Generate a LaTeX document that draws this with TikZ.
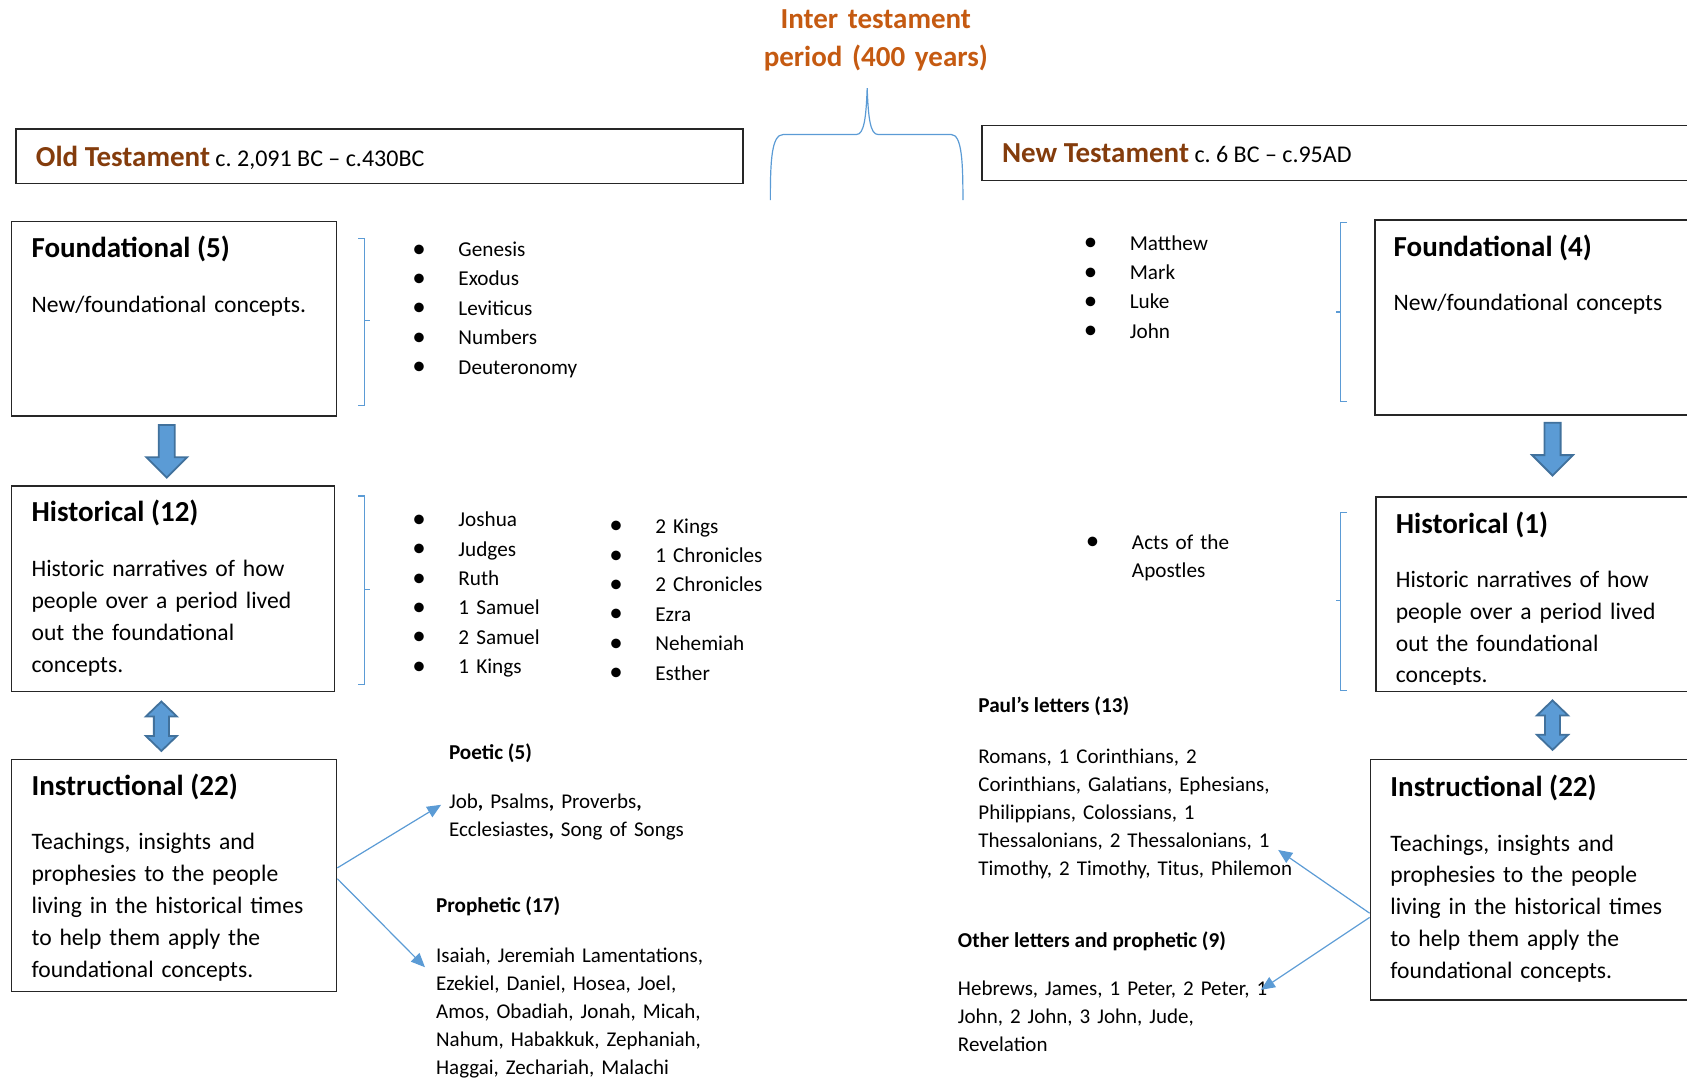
\documentclass[tikz,border=0pt]{standalone}
\usepackage{fontspec}
\setmainfont{Carlito}
\usepackage{xcolor}
\usetikzlibrary{arrows.meta}
\definecolor{intercol}{HTML}{C55A11}
\definecolor{testcol}{HTML}{843C0C}
\definecolor{linkblue}{HTML}{5B9BD5}
\definecolor{blockedge}{HTML}{41719C}
\newcommand{\bul}{\makebox[23pt][l]{\raisebox{-0.3pt}{\fontsize{13.5}{13.5}\selectfont\textbullet}}}
\frenchspacing
\tikzset{
  box/.style={draw=black!85, line width=0.8pt, anchor=north west, inner sep=0pt},
  title/.style={font=\fontsize{14.5}{17}\selectfont\bfseries, anchor=base west, inner sep=0pt},
  body/.style={font=\fontsize{11.8}{15.9}\selectfont, anchor=base west, inner sep=0pt, align=left, text width=185pt},
  books/.style={font=\fontsize{10.6}{14.7}\selectfont, anchor=base west, inner sep=0pt, align=left, text width=110pt},
  grouphead/.style={font=\fontsize{10.6}{13}\selectfont\bfseries, anchor=base west, inner sep=0pt},
  grouptext/.style={font=\fontsize{10.5}{14}\selectfont, anchor=base west, inner sep=0pt, align=left, text width=190pt},
  bracket/.style={draw=linkblue, line width=0.6pt},
  blockarrow/.style={fill=linkblue, draw=blockedge, line width=0.9pt, line join=miter},
  link/.style={draw=linkblue, line width=0.6pt, -{Triangle[length=7pt,width=6pt]}}
}

\begin{document}
\begin{tikzpicture}[x=0.538pt, y=-0.538pt]
	\useasboundingbox (0,0) rectangle (1568,1003);
	\clip (0,0) rectangle (1568,1003);

	\node[font=\fontsize{14.5}{18.8}\selectfont\bfseries, text=intercol, anchor=base, inner sep=0pt, align=center, text width=160pt] (inter) at (814,26.5) {Inter testament\\period (400 years)};
	\draw[linkblue, line width=0.6pt] (716,186) .. controls (716,150) and (717,125) .. (728,125) -- (796,125) .. controls (803,125) and (805,110) .. (806,82) .. controls (807,110) and (809,125) .. (816,125) -- (884,125) .. controls (894,125) and (895,150) .. (895,186);

	\node[box, minimum width=363.7pt, minimum height=27.4pt] (otbar) at (14,119) {};
	\node[font=\fontsize{12}{14}\selectfont, anchor=base west, inner sep=0pt] (othead) at (33,155) {\textcolor{testcol}{\fontsize{14.5}{17}\selectfont\bfseries Old Testament} c. 2,091 BC -- c.430BC};
	\node[box, minimum width=370pt, minimum height=27.4pt] (ntbar) at (912,116) {};
	\node[font=\fontsize{12}{14}\selectfont, anchor=base west, inner sep=0pt] (nthead) at (931,151) {\textcolor{testcol}{\fontsize{14.5}{17}\selectfont\bfseries New Testament} c. 6 BC -- c.95AD};

	\node[box, minimum width=162.5pt, minimum height=97.4pt] (otfound) at (10,205) {};
	\node[title] (otfoundhead) at (29,239) {Foundational (5)};
	\node[body] (otfoundtxt) at (29,290) {New/foundational concepts.};
	\node[box, minimum width=161.4pt, minimum height=102.8pt] (othist) at (10,451) {};
	\node[title] (othisthead) at (29,485) {Historical (12)};
	\node[body] (othisttxt) at (29,536) {Historic narratives of how\\people over a period lived\\out the foundational\\concepts.};
	\node[box, minimum width=162.5pt, minimum height=116.2pt] (otinstr) at (10,705) {};
	\node[title] (otinstrhead) at (29,739) {Instructional (22)};
	\node[body] (otinstrtxt) at (29,790) {Teachings, insights and\\prophesies to the people\\living in the historical times\\to help them apply the\\foundational concepts.};

	\begin{scope}[shift={(155,395)}]
		\draw[blockarrow] (-7.5,0) -- (7.5,0) -- (7.5,30) -- (19,30) -- (0,49) -- (-19,30) -- (-7.5,30) -- cycle;
	\end{scope}
	\begin{scope}[shift={(150,675)}]
		\draw[blockarrow] (0,-23) -- (14.5,-9) -- (7,-9) -- (7,9) -- (14.5,9) -- (0,23) -- (-14.5,9) -- (-7,9) -- (-7,-9) -- (-14.5,-9) -- cycle;
	\end{scope}

	\draw[bracket] (333,222) -- (339,222) -- (339,377) -- (333,377) (339,298) -- (344,298);
	\draw[bracket] (333,461) -- (339,461) -- (339,636) -- (333,636) (339,548) -- (344,548);
	\node[books] (pentateuch) at (383,238.5) {\bul Genesis\\\bul Exodus\\\bul Leviticus\\\bul Numbers\\\bul Deuteronomy};
	\node[books] (histbooksa) at (383,489.5) {\bul Joshua\\\bul Judges\\\bul Ruth\\\bul 1 Samuel\\\bul 2 Samuel\\\bul 1 Kings};
	\node[books] (histbooksb) at (566,495.5) {\bul 2 Kings\\\bul 1 Chronicles\\\bul 2 Chronicles\\\bul Ezra\\\bul Nehemiah\\\bul Esther};

	\node[grouphead] (poetichead) at (417,705.5) {Poetic (5)};
	\node[grouptext] (poeticbooks) at (417,751.5) {Job\textbf{,} Psalms\textbf{,} Proverbs\textbf{,}\\Ecclesiastes\textbf{,} Song of Songs};
	\node[grouphead] (prophetichead) at (405,848.5) {Prophetic (17)};
	\node[grouptext] (propheticbooks) at (405,894.5) {Isaiah, Jeremiah Lamentations,\\Ezekiel, Daniel, Hosea, Joel,\\Amos, Obadiah, Jonah, Micah,\\Nahum, Habakkuk, Zephaniah,\\Haggai, Zechariah, Malachi};
	\coordinate (poetictip) at (410,748);
	\coordinate (prophetictip) at (395,899);
	\draw[link] ([yshift=3.8pt]otinstr.east) -- (poetictip);
	\draw[link] ([yshift=-1.6pt]otinstr.east) -- (prophetictip);

	\node[box, minimum width=173.8pt, minimum height=97.4pt] (ntfound) at (1277,204) {};
	\node[title] (ntfoundhead) at (1295,238) {Foundational (4)};
	\node[body] (ntfoundtxt) at (1295,289) {New/foundational concepts};
	\node[box, minimum width=173.2pt, minimum height=97.4pt] (nthist) at (1278,461) {};
	\node[title] (nthisthead) at (1297,496) {Historical (1)};
	\begin{scope}
		\clip (1278,461) rectangle (1600,636);
		\node[body] (nthisttxt) at (1297,546) {Historic narratives of how\\people over a period lived\\out the foundational\\concepts.};
	\end{scope}
	\node[box, minimum width=175.9pt, minimum height=120.5pt] (ntinstr) at (1273,705) {};
	\node[title] (ntinstrhead) at (1292,740) {Instructional (22)};
	\node[body] (ntinstrtxt) at (1292,791) {Teachings, insights and\\prophesies to the people\\living in the historical times\\to help them apply the\\foundational concepts.};

	\begin{scope}[shift={(1443,393)}]
		\draw[blockarrow] (-7.5,0) -- (7.5,0) -- (7.5,30) -- (19,30) -- (0,49) -- (-19,30) -- (-7.5,30) -- cycle;
	\end{scope}
	\begin{scope}[shift={(1443,674)}]
		\draw[blockarrow] (0,-23) -- (14.5,-9) -- (7,-9) -- (7,9) -- (14.5,9) -- (0,23) -- (-14.5,9) -- (-7,9) -- (-7,-9) -- (-14.5,-9) -- cycle;
	\end{scope}

	\draw[bracket] (1252,207) -- (1246,207) -- (1246,373) -- (1252,373) (1246,290) -- (1242,290);
	\draw[bracket] (1252,476) -- (1246,476) -- (1246,642) -- (1252,642) (1246,558) -- (1242,558);
	\node[books] (gospels) at (1007,232.5) {\bul Matthew\\\bul Mark\\\bul Luke\\\bul John};
	\node[books, font=\fontsize{10.6}{14}\selectfont] (acts) at (1009,510.5) {\bul Acts of the\\\hspace*{23pt}Apostles};

	\node[grouphead] (paulhead) at (909,662.5) {Paul’s letters (13)};
	\node[grouptext] (paulbooks) at (909,709.5) {Romans, 1 Corinthians, 2\\Corinthians, Galatians, Ephesians,\\Philippians, Colossians, 1\\Thessalonians, 2 Thessalonians, 1\\Timothy, 2 Timothy, Titus, Philemon};
	\node[grouphead] (otherhead) at (890,880.5) {Other letters and prophetic (9)};
	\node[grouptext] (otherbooks) at (890,925.5) {Hebrews, James, 1 Peter, 2 Peter, 1\\John, 2 John, 3 John, Jude,\\Revelation};
	\coordinate (paultip) at (1188,790);
	\coordinate (othertip) at (1172,920);
	\draw[link] ([yshift=-16.7pt]ntinstr.west) -- (paultip);
	\draw[link] ([yshift=-18.8pt]ntinstr.west) -- (othertip);
\end{tikzpicture}
\end{document}
